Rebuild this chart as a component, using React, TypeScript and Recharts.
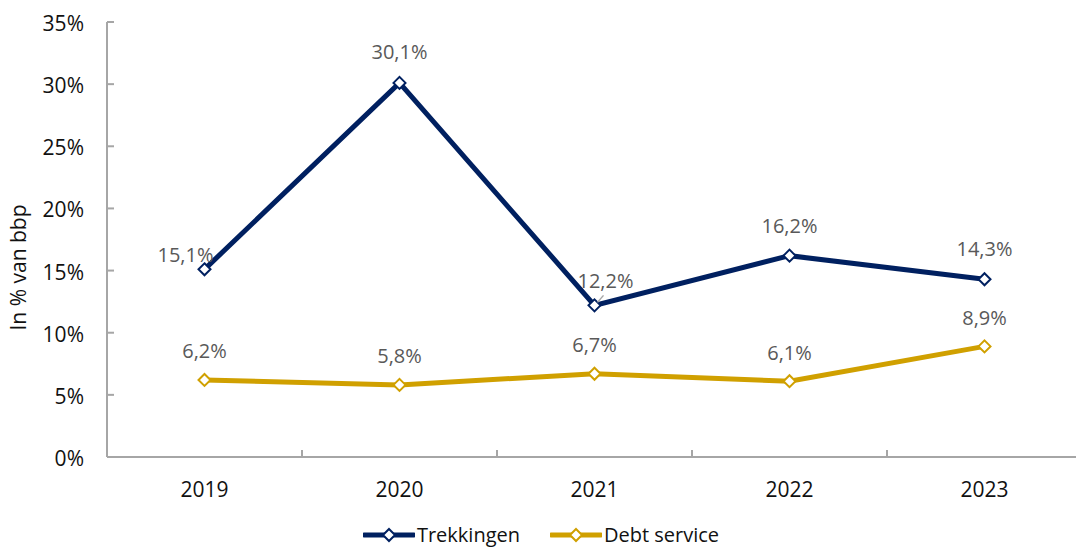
import React from "react";
import { LineChart, Line, XAxis, YAxis, Legend, LabelList, Label } from "recharts";

const years = ["2019", "2020", "2021", "2022", "2023"];
const trekkingen = [15.1, 30.1, 12.2, 16.2, 14.3];
const debtService = [6.2, 5.8, 6.7, 6.1, 8.9];
const yTicks = [0, 5, 10, 15, 20, 25, 30, 35];

const NAVY = "#002060";
const GOLD = "#D0A000";
const AXIS = "#A6A6A6";
const FONT = "'Open Sans', sans-serif";

const data = years.map((year, i) => ({
  year,
  trekkingen: trekkingen[i],
  debt: debtService[i],
}));

const fmt = (v: number) => `${v.toFixed(1).replace(".", ",")}%`;

function diamond(color: string) {
  return (props: any) => {
    const { cx, cy, index } = props;
    if (cx == null || cy == null) return <g key={index} />;
    const r = 6;
    return (
      <polygon
        key={index}
        points={`${cx},${cy - r} ${cx + r},${cy} ${cx},${cy + r} ${cx - r},${cy}`}
        fill="#fff"
        stroke={color}
        strokeWidth={2}
      />
    );
  };
}

// label placement tweaks per point (dx, dy from the marker)
const trekLabelShift = [
  [-19, -15],
  [0, -31],
  [11, -25],
  [0, -30],
  [0, -31],
];

function trekLabel(props: any) {
  const { x, y, value, index } = props;
  const [dx, dy] = trekLabelShift[index];
  return (
    <g key={index}>
      {index === 2 && <line x1={x + 3} y1={y - 3} x2={x + 9} y2={y - 10} stroke={AXIS} strokeWidth={1.5} />}
      <text x={x + dx} y={y + dy} textAnchor="middle" dominantBaseline="central" fill="#595959" fontSize={20} fontFamily={FONT}>
        {fmt(value)}
      </text>
    </g>
  );
}

function debtLabel(props: any) {
  const { x, y, value, index } = props;
  return (
    <text key={index} x={x} y={y - 29} textAnchor="middle" dominantBaseline="central" fill="#595959" fontSize={20} fontFamily={FONT}>
      {fmt(value)}
    </text>
  );
}

function YTick(props: any) {
  const { x, y, payload } = props;
  return (
    <g>
      <line x1={x} y1={y} x2={x + 7} y2={y} stroke={AXIS} strokeWidth={2} />
      <text x={x - 23} y={y + 1} textAnchor="end" dominantBaseline="central" fill="#111" fontSize={21} fontFamily={FONT}>
        {payload.value}%
      </text>
    </g>
  );
}

// category label plus a small tick at the right edge of each band (except the last)
function XTick(props: any) {
  const { x, y, payload, index, width, visibleTicksCount } = props;
  const band = width && visibleTicksCount ? width / visibleTicksCount : 0;
  return (
    <g>
      {band > 0 && index < visibleTicksCount - 1 && (
        <line x1={x + band / 2} y1={y} x2={x + band / 2} y2={y - 7} stroke={AXIS} strokeWidth={2} />
      )}
      <text x={x} y={y + 32} textAnchor="middle" dominantBaseline="central" fill="#111" fontSize={21} fontFamily={FONT}>
        {payload.value}
      </text>
    </g>
  );
}

const legendItems = [
  { name: "Trekkingen", color: NAVY },
  { name: "Debt service", color: GOLD },
];

function LegendContent() {
  return (
    <div style={{ display: "flex", justifyContent: "center", gap: 30, fontFamily: FONT, fontSize: 20, lineHeight: "24px", color: "#111", paddingLeft: 6 }}>
      {legendItems.map((it) => (
        <div key={it.name} style={{ display: "flex", alignItems: "center", gap: 2 }}>
          <svg width={52} height={16}>
            <line x1={1} y1={8} x2={51} y2={8} stroke={it.color} strokeWidth={5} strokeLinecap="round" />
            <polygon points="26,2 32,8 26,14 20,8" fill="#fff" stroke={it.color} strokeWidth={2} />
          </svg>
          <span>{it.name}</span>
        </div>
      ))}
    </div>
  );
}

export default function App() {
  return (
    <div style={{ position: "fixed", top: 0, left: 0, width: 1076, height: 547, overflow: "hidden", background: "#fff" }}>
      <LineChart
        width={1090}
        height={547}
        data={data}
        margin={{ top: 22, right: 8, left: 0, bottom: 48 }}
        style={{ fontFamily: FONT }}
      >
        <XAxis
          dataKey="year"
          padding={{ left: 97.5, right: 97.5 }}
          axisLine={{ stroke: AXIS, strokeWidth: 2 }}
          tickLine={false}
          tickSize={0}
          tickMargin={0}
          height={42}
          interval={0}
          tick={<XTick />}
        />
        <YAxis
          domain={[0, 35]}
          ticks={yTicks}
          width={107}
          axisLine={{ stroke: AXIS, strokeWidth: 2 }}
          tickLine={false}
          tickSize={0}
          tickMargin={0}
          tick={<YTick />}
        >
          <Label
            content={(p: any) => {
              const vb = p.viewBox;
              const cx = 18;
              const cy = vb.y + vb.height / 2 + 28;
              return (
                <text x={cx} y={cy} transform={`rotate(-90 ${cx} ${cy})`} textAnchor="middle" dominantBaseline="central" fill="#111" fontSize={21} fontFamily={FONT}>
                  In % van bbp
                </text>
              );
            }}
          />
        </YAxis>
        <Line
          dataKey="trekkingen"
          name="Trekkingen"
          stroke={NAVY}
          strokeWidth={5}
          dot={diamond(NAVY)}
          activeDot={false}
          isAnimationActive={false}
        >
          <LabelList dataKey="trekkingen" content={trekLabel} />
        </Line>
        <Line
          dataKey="debt"
          name="Debt service"
          stroke={GOLD}
          strokeWidth={5}
          dot={diamond(GOLD)}
          activeDot={false}
          isAnimationActive={false}
        >
          <LabelList dataKey="debt" content={debtLabel} />
        </Line>
        <Legend
          verticalAlign="middle"
          align="center"
          content={<LegendContent />}
          wrapperStyle={{ top: 523, left: 0, width: 1076, height: 24 }}
        />
      </LineChart>
    </div>
  );
}
